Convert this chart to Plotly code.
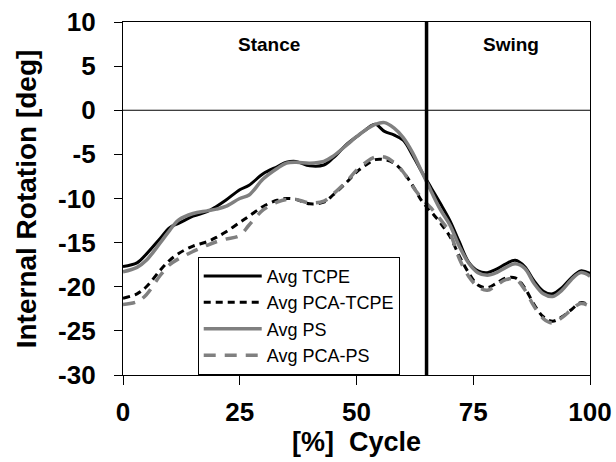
import plotly.graph_objects as go

cycle = [0, 3, 5, 8, 10, 12, 15, 18, 20, 22, 25, 27, 30, 33, 35, 37, 40, 43, 45, 48,
         50, 52, 54, 56, 58, 60, 62, 64, 66, 68, 70, 72, 74, 76, 78, 80, 82, 84, 86, 88,
         90, 92, 94, 96, 98, 100]

avg_tcpe = [-17.7, -17.3, -16.3, -14.5, -13.3, -12.8, -12.0, -11.5, -10.9, -10.2, -9.0, -8.5,
            -7.2, -6.4, -5.9, -5.8, -6.3, -6.2, -5.4, -3.8, -3.0, -2.2, -1.6, -2.4, -2.8,
            -3.4, -5.1, -7.0, -8.8, -10.6, -12.5, -14.9, -17.2, -18.2, -18.4, -18.0, -17.4,
            -17.0, -17.7, -19.3, -20.5, -20.8, -20.1, -19.0, -18.2, -18.5]

avg_pca_tcpe = [-21.3, -20.8, -20.0, -18.1, -17.0, -16.2, -15.4, -14.9, -14.4, -13.8, -12.7,
                -12.0, -10.9, -10.2, -10.0, -10.1, -10.6, -10.4, -9.6, -8.1, -7.0, -6.2, -5.6,
                -5.6, -6.0, -7.0, -8.5, -10.3, -11.5, -12.8, -14.3, -16.5, -18.4, -19.8, -20.1,
                -19.6, -19.0, -19.0, -20.1, -22.0, -23.4, -23.9, -23.4, -22.6, -21.8, -22.1]

avg_ps = [-18.3, -17.8, -17.0, -15.0, -13.6, -12.4, -11.7, -11.4, -11.2, -10.9, -10.0, -9.6,
          -7.8, -6.6, -6.0, -5.9, -6.0, -5.8, -5.2, -3.9, -3.0, -2.2, -1.6, -1.4, -2.0,
          -3.1, -4.8, -7.0, -9.2, -11.3, -13.0, -15.4, -17.3, -18.4, -18.7, -18.4, -17.8,
          -17.4, -17.9, -19.6, -20.8, -21.1, -20.4, -19.2, -18.4, -18.8]

avg_pca_ps = [-22.0, -21.7, -20.9, -18.7, -17.5, -16.8, -16.0, -15.3, -14.9, -14.6, -14.2,
              -13.0, -11.3, -10.4, -10.1, -10.1, -10.5, -10.3, -9.5, -8.0, -6.8, -5.9, -5.3,
              -5.3, -5.9, -7.0, -8.6, -10.0, -11.1, -12.4, -13.9, -16.8, -18.8, -20.0, -20.4,
              -19.8, -19.2, -19.1, -20.3, -22.2, -23.6, -24.1, -23.5, -22.6, -21.9, -22.2]

x_ticks = [0, 25, 50, 75, 100]
y_ticks = [-30, -25, -20, -15, -10, -5, 0, 5, 10]
phase_labels = ["Stance", "Swing"]
phase_label_x = [31.3, 83.1]
toe_off = 65

GRAY = "#808080"
fig = go.Figure()
fig.add_trace(go.Scatter(x=cycle, y=avg_tcpe, name="Avg TCPE", mode="lines",
                         line=dict(color="black", width=3, shape="spline", smoothing=1.0)))
fig.add_trace(go.Scatter(x=cycle, y=avg_pca_tcpe, name="Avg PCA-TCPE", mode="lines",
                         line=dict(color="black", width=3, dash="7px,5px", shape="spline", smoothing=1.0)))
fig.add_trace(go.Scatter(x=cycle, y=avg_ps, name="Avg PS", mode="lines",
                         line=dict(color=GRAY, width=3.5, shape="spline", smoothing=1.0)))
fig.add_trace(go.Scatter(x=cycle, y=avg_pca_ps, name="Avg PCA-PS", mode="lines",
                         line=dict(color=GRAY, width=3.5, dash="12px,9px", shape="spline", smoothing=1.0)))

# zero line and toe-off line
fig.add_shape(type="line", xref="paper", x0=0, x1=1, yref="y", y0=0, y1=0,
              line=dict(color="black", width=1.2), layer="below")
fig.add_shape(type="line", xref="x", x0=toe_off, x1=toe_off, yref="paper", y0=0, y1=1,
              line=dict(color="black", width=3.5))

for lab, lx in zip(phase_labels, phase_label_x):
    fig.add_annotation(x=lx, y=7.4, xref="x", yref="y", text="<b>%s</b>" % lab,
                       showarrow=False, font=dict(size=19, color="black"))

fig.add_annotation(xref="paper", yref="paper", x=0.5, y=0, yshift=-67, text="<b>[%]&nbsp; Cycle</b>",
                   showarrow=False, font=dict(size=27, color="black"), yanchor="middle")
fig.add_annotation(xref="paper", yref="paper", x=-0.206, y=0.5, text="<b>Internal Rotation [deg]</b>",
                   textangle=-90, showarrow=False, font=dict(size=28, color="black"),
                   xanchor="center", yanchor="middle")

fig.update_layout(
    width=616, height=462,
    margin=dict(l=123, r=26, t=22, b=87, autoexpand=False),
    paper_bgcolor="white", plot_bgcolor="white",
    font=dict(family="Liberation Sans, Arial, sans-serif", color="black"),
    showlegend=True,
    legend=dict(x=0.16, y=0.335, xanchor="left", yanchor="top",
                bgcolor="white", bordercolor="black", borderwidth=1,
                font=dict(size=18, color="black"), itemwidth=58, tracegroupgap=0),
    xaxis=dict(range=[0, 100], tickvals=x_ticks, ticktext=["<b>%d</b>" % v for v in x_ticks],
               showgrid=False, zeroline=False, showline=True, mirror=True, automargin=False,
               linecolor="black", linewidth=1.2, ticks="outside", ticklen=9, tickwidth=1.2,
               tickcolor="black", tickfont=dict(size=26, color="black"), ticklabelstandoff=5),
    yaxis=dict(range=[-30, 10], tickvals=y_ticks, ticktext=["<b>%d</b>" % v for v in y_ticks],
               showgrid=False, zeroline=False, showline=True, mirror=True, automargin=False,
               linecolor="black", linewidth=1.2, ticks="outside", ticklen=8, tickwidth=1.2,
               tickcolor="black", tickfont=dict(size=26, color="black"), ticklabelstandoff=13),
)

fig.write_html("out.html")
